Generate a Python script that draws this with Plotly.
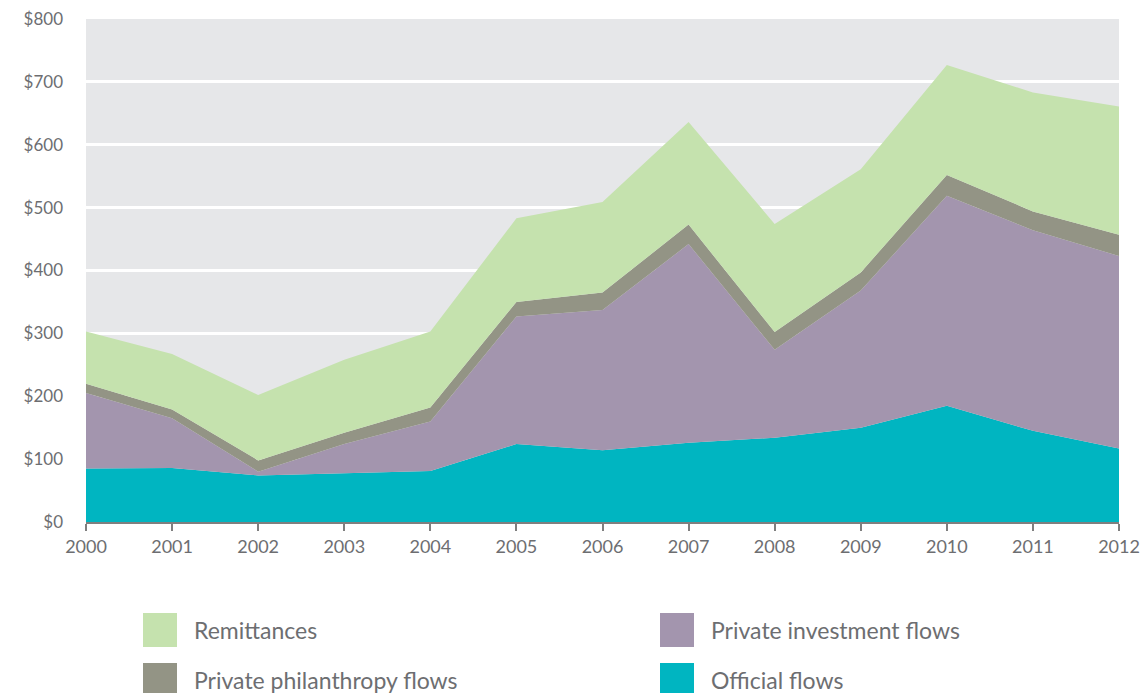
import plotly.graph_objects as go

years = [2000, 2001, 2002, 2003, 2004, 2005, 2006, 2007, 2008, 2009, 2010, 2011, 2012]
official = [85, 86, 74, 77, 81, 124, 114, 126, 134, 150, 185, 145, 117]
private_investment = [120, 79, 6, 47, 79, 203, 223, 316, 140, 218, 334, 319, 306]
philanthropy = [15, 14, 18, 18, 22, 23, 28, 31, 28, 29, 33, 30, 34]
remittances = [83, 88, 104, 116, 121, 133, 144, 163, 172, 164, 175, 189, 204]
y_ticks = [0, 100, 200, 300, 400, 500, 600, 700, 800]

series = [
    ("Official flows", official, "#00b5c1"),
    ("Private investment flows", private_investment, "#a395ae"),
    ("Private philanthropy flows", philanthropy, "#939485"),
    ("Remittances", remittances, "#c5e2ae"),
]

fig = go.Figure()
for name, vals, col in series:
    fig.add_trace(go.Scatter(
        x=years, y=vals, name=name, mode="lines", stackgroup="one",
        line=dict(width=0, color=col), fillcolor=col, showlegend=False,
    ))

font_fam = "Lato, 'Open Sans', sans-serif"
grey = "#6d6e71"

fig.update_layout(
    width=1145, height=693,
    margin=dict(l=86, r=26, t=19, b=171),
    paper_bgcolor="white", plot_bgcolor="#e6e7e9",
    font=dict(family=font_fam, color=grey, size=17),
)
fig.update_xaxes(
    range=[2000, 2012], tickvals=years, ticktext=[str(y) for y in years],
    showgrid=False, zeroline=False, automargin=False, ticklabeloverflow="allow",
    showline=True, linecolor="#7f7f7f", linewidth=2,
    ticks="outside", ticklen=7, tickwidth=2, tickcolor="#7f7f7f",
    tickfont=dict(size=18, color=grey),
)
fig.update_yaxes(
    range=[0, 800], tickvals=y_ticks, ticktext=["$" + str(v) for v in y_ticks],
    showgrid=True, gridcolor="white", gridwidth=3, zeroline=False, automargin=False,
    ticklabeloverflow="allow",
    showline=False, ticks="", ticklabelstandoff=22,
    tickfont=dict(size=17, color=grey),
)

# Legend drawn as shapes + text (2 columns)
legend_items = [
    ("Remittances", "#c5e2ae", 0, 0),
    ("Private investment flows", "#a395ae", 1, 0),
    ("Private philanthropy flows", "#939485", 0, 1),
    ("Official flows", "#00b5c1", 1, 1),
]
W, H = 1033.0, 503.0
def px(xp):
    return (xp - 86) / W
def py(yp):
    return (522 - yp) / H
col_x = [143, 660]
row_y = [613, 663]
for label, col, c, r in legend_items:
    x0 = col_x[c]
    y0 = row_y[r]
    fig.add_shape(type="rect", xref="paper", yref="paper",
                  x0=px(x0), x1=px(x0 + 34), y0=py(y0), y1=py(y0 + 34),
                  fillcolor=col, line=dict(width=0), layer="above")
    fig.add_annotation(xref="paper", yref="paper", x=px(x0 + 49), y=py(y0 + 17),
                       text=label, showarrow=False, xanchor="left", yanchor="middle",
                       font=dict(size=23, color=grey, family=font_fam))

fig.write_html(
    "out.html",
    config={"displayModeBar": False},
    post_script="document.body.style.margin='0px';document.body.style.overflow='hidden';",
)
